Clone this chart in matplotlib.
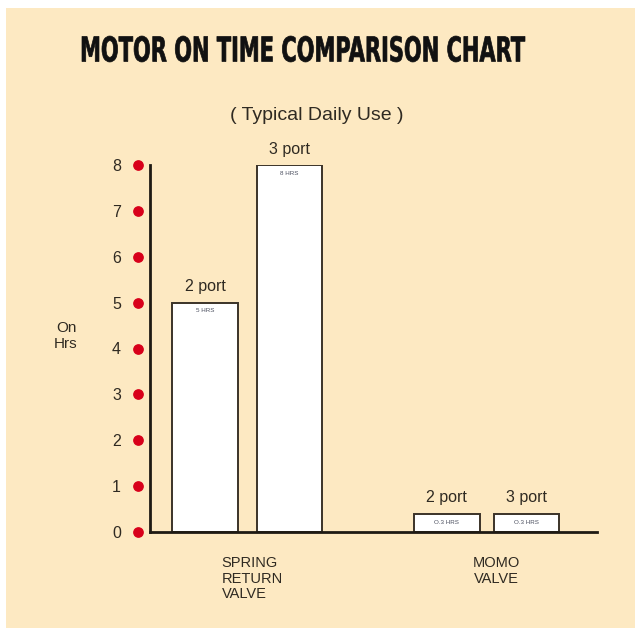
# -*- coding: utf-8 -*-
import matplotlib
matplotlib.use('Agg')
import matplotlib.pyplot as plt
import matplotlib.transforms as mtransforms
from matplotlib.textpath import TextPath
from matplotlib.font_manager import FontProperties
from matplotlib.patches import PathPatch

# data
groups = ['SPRING\nRETURN\nVALVE', 'MOMO\nVALVE']
bar_names = ['2 port', '3 port', '2 port', '3 port']
hours = [5, 8, 0.4, 0.4]
inside_labels = ['5 HRS', '8 HRS', 'O.3 HRS', 'O.3 HRS']
yticks = [0, 1, 2, 3, 4, 5, 6, 7, 8]
title = 'MOTOR ON TIME COMPARISON CHART'

# layout
bar_x = [1.23, 3.12, 6.64, 8.42]
bar_w = 1.47
BG = '#fde9c2'
TXT = '#2f2a22'
EDGE = '#3b3328'
W, H = 635, 628

fig = plt.figure(figsize=(W / 100, H / 100), dpi=100)
fig.patch.set_facecolor('white')
fig.patches.append(plt.Rectangle((6 / W, 0), 1, 1 - 8 / H, transform=fig.transFigure,
                                 facecolor=BG, edgecolor='none', zorder=-10))

ax = fig.add_axes([150 / W, 96 / H, 447 / W, 367 / H])
ax.set_facecolor('none')
ax.set_xlim(0, 10)
ax.set_ylim(0, 8)

ax.bar(bar_x, hours, width=bar_w, color='white', edgecolor=EDGE, linewidth=1.4, zorder=3)
for x, h, name, lab in zip(bar_x, hours, bar_names, inside_labels):
    ax.text(x, h + 0.18, name, ha='center', va='bottom', fontsize=11.5,
            family='Liberation Sans', color=TXT, clip_on=False)
    ax.text(x, h - 0.12 if h > 1 else h / 2, lab, ha='center', va='top' if h > 1 else 'center',
            fontsize=4.5, family='Liberation Sans', color='#4a4e5e', zorder=4)

for s in ['top', 'right']:
    ax.spines[s].set_visible(False)
for s in ['left', 'bottom']:
    ax.spines[s].set_linewidth(2.0)
    ax.spines[s].set_color('#1e1a14')
ax.spines['bottom'].set_zorder(5)

ax.set_yticks(yticks)
ax.set_yticklabels([str(v) for v in yticks], fontsize=11.5, family='Liberation Sans', color=TXT)
ax.tick_params(axis='y', length=0, pad=21)
ax.set_xticks([])

# red dots beside the axis
trans = mtransforms.blended_transform_factory(ax.transAxes, ax.transData)
ax.scatter([-12 / 447] * len(yticks), yticks, s=45, color='#d8001a', transform=trans,
           clip_on=False, zorder=5)

# category labels
ax.text(1.6, -0.52, groups[0], ha='left', va='top', fontsize=10.5, family='Liberation Sans',
        color=TXT, linespacing=1.15, clip_on=False)
ax.text(7.75, -0.52, groups[1], ha='center', va='top', fontsize=10.5, family='Liberation Sans',
        color=TXT, linespacing=1.15, clip_on=False)

fig.text(66 / W, 1 - 336 / H, 'On\nHrs', ha='center', va='center', fontsize=11,
         family='Liberation Sans', color=TXT, linespacing=1.1)

# condensed heavy title: squeeze a bold text path into the box it fills
tp = TextPath((0, 0), title, size=30, prop=FontProperties(family='DejaVu Sans', weight='bold'))
ext = tp.get_extents()
x0, x1 = 82, 525
ytop, ybot = 36, 62
sx = (x1 - x0) / ext.width
sy = (ybot - ytop) / ext.height
tr = mtransforms.Affine2D().translate(-ext.x0, -ext.y0).scale(sx, sy).translate(x0, H - ybot)
fig.patches.append(PathPatch(tr.transform_path(tp), transform=mtransforms.IdentityTransform(),
                             facecolor='#111111', edgecolor='#111111', linewidth=0.5))

fig.text(317 / W, 1 - 115 / H, '( Typical Daily Use )', ha='center', va='center',
         fontsize=14, family='Liberation Sans', color=TXT)

plt.savefig('out.png', dpi=100, facecolor=fig.get_facecolor())
